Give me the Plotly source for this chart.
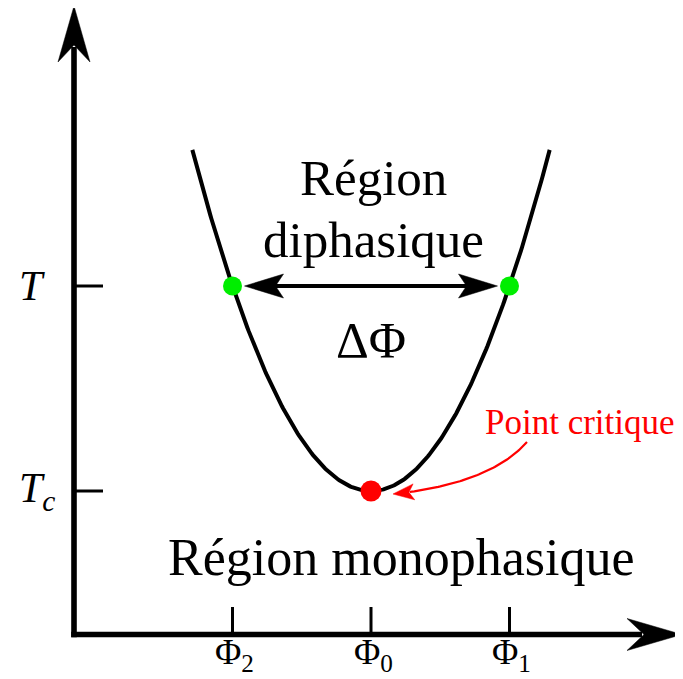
import numpy as np
import plotly.graph_objects as go

# ---- data (schematic units: Phi0 = 0, Tc = 0) ----
PHI_VALUES = [-1.0, 0.0, 1.0]
PHI_LABELS = ["Φ<sub>2</sub>", "Φ<sub>0</sub>", "Φ<sub>1</sub>"]
T_VALUES = [0.0, 1.0]
T_LABELS = ["<i>T</i><sub><i>c</i></sub>", "<i>T</i>"]
COEX_PHI = [-1.0, 1.0]      # Phi2, Phi1 at temperature T
COEX_T = [1.0, 1.0]
CRIT_PHI = [0.0]            # Phi0
CRIT_T = [0.0]              # Tc
CURVE_PHI_MAX = 1.29

# coexistence curve (parabola through the three points)
curve_phi = np.linspace(-CURVE_PHI_MAX, CURVE_PHI_MAX, 300)
curve_T = CRIT_T[0] + (curve_phi - CRIT_PHI[0]) ** 2 * (COEX_T[0] - CRIT_T[0])

# ---- layout geometry (page pixels; page body has an 8px margin) ----
W, H = 683, 679
OFF = 8
SX, SY = 138.5, 205.0          # px per unit
X0PX, Y0PX = 371.0, 491.0      # page pixel of (Phi0, Tc)
def dx(px): return (px - X0PX) / SX
def dy(py): return (Y0PX - py) / SY
def px_of(x): return X0PX + x * SX
def py_of(y): return Y0PX - y * SY

XR = [dx(OFF), dx(W)]
YR = [dy(H), dy(OFF)]
AXX, AXY = 74.0, 634.5          # axis origin pixel

FONT = "Liberation Serif"
fig = go.Figure()

def line(xs_px, ys_px, color, width):
    fig.add_trace(go.Scatter(x=[dx(v) for v in xs_px], y=[dy(v) for v in ys_px], mode="lines",
                             line=dict(color=color, width=width), hoverinfo="skip"))

def head(tip, direction, L, w, inset, color):
    tip = np.asarray(tip, float)
    d = np.asarray(direction, float); d = d / np.hypot(*d)
    n = np.array([-d[1], d[0]])
    back = tip - d * L
    pts = [tip, back + n * w, tip - d * (L - inset), back - n * w, tip]
    fig.add_trace(go.Scatter(x=[dx(p[0]) for p in pts], y=[dy(p[1]) for p in pts],
                             mode="lines", fill="toself", fillcolor=color,
                             line=dict(color=color, width=0.5), hoverinfo="skip"))
    return tip - d * (L - inset)

# coexistence curve
fig.add_trace(go.Scatter(x=curve_phi, y=curve_T, mode="lines",
                         line=dict(color="black", width=4), hoverinfo="skip"))

# axes with stealth arrowheads
ny = head((AXX, 6), (0, -1), 56, 16, 17, "black")
line([AXX, AXX], [AXY + 2.8, ny[1] + 2], "black", 5.6)
nx = head((682, AXY), (1, 0), 55, 16, 17, "black")
line([AXX - 2.8, nx[0] - 2], [AXY, AXY], "black", 5.6)

# tick marks
for t in T_VALUES:
    line([AXX, 103], [py_of(t), py_of(t)], "black", 3)
for p in PHI_VALUES:
    line([px_of(p), px_of(p)], [AXY, 607], "black", 3)

# double arrow Delta Phi
yT = py_of(COEX_T[0])
l_tip = px_of(COEX_PHI[0]) + 12
r_tip = px_of(COEX_PHI[1]) - 12
nl = head((l_tip, yT), (-1, 0), 39, 12, 8, "black")
nr = head((r_tip, yT), (1, 0), 39, 12, 8, "black")
line([nl[0] - 1, nr[0] + 1], [yT, yT], "black", 4)

# red curved arrow (quadratic bezier, pixel space)
P0 = np.array([527.0, 442.0])
C = np.array([490.0, 484.0])
P2 = np.array([px_of(CRIT_PHI[0]) + 22, py_of(CRIT_T[0]) + 3])
tt = np.linspace(0, 1, 80)[:, None]
bez = (1 - tt) ** 2 * P0 + 2 * (1 - tt) * tt * C + tt ** 2 * P2
nred = head(P2, P2 - C, 21, 8, 5, "red")
keep = bez[:, 0] >= nred[0] - 1
line(bez[keep, 0], bez[keep, 1], "red", 2.2)

# points
fig.add_trace(go.Scatter(x=COEX_PHI, y=COEX_T, mode="markers",
                         marker=dict(color="#00ee00", size=19), hoverinfo="skip"))
fig.add_trace(go.Scatter(x=CRIT_PHI, y=CRIT_T, mode="markers",
                         marker=dict(color="red", size=21), hoverinfo="skip"))

ann = []
# tick labels
for t, lab in zip(T_VALUES, T_LABELS):
    ann.append(dict(x=dx(17), y=t, xref="x", yref="y", text=lab, showarrow=False,
                    xanchor="left", yanchor="middle", font=dict(family=FONT, size=42, color="black")))
for p, lab in zip(PHI_VALUES, PHI_LABELS):
    ann.append(dict(x=p + 2 / SX, y=dy(654), xref="x", yref="y", text=lab, showarrow=False,
                    xanchor="center", yanchor="middle", font=dict(family=FONT, size=36, color="black")))

def label(txt, px, py, size, color="black"):
    ann.append(dict(x=dx(px), y=dy(py), xref="x", yref="y", text=txt, showarrow=False,
                    xanchor="center", yanchor="middle", font=dict(family=FONT, size=size, color=color)))

label("Région", 373, 178, 51)
label("diphasique", 373, 240, 51)
label("ΔΦ", 371, 340, 51)
label("Région monophasique", 401, 557, 52)
label("Point critique", 580, 422, 35, "red")

fig.update_layout(
    width=W - OFF, height=H - OFF, margin=dict(l=0, r=0, t=0, b=0),
    paper_bgcolor="white", plot_bgcolor="white", showlegend=False,
    xaxis=dict(range=XR, visible=False, fixedrange=True),
    yaxis=dict(range=YR, visible=False, fixedrange=True),
    annotations=ann,
)
fig.write_html("out.html")
